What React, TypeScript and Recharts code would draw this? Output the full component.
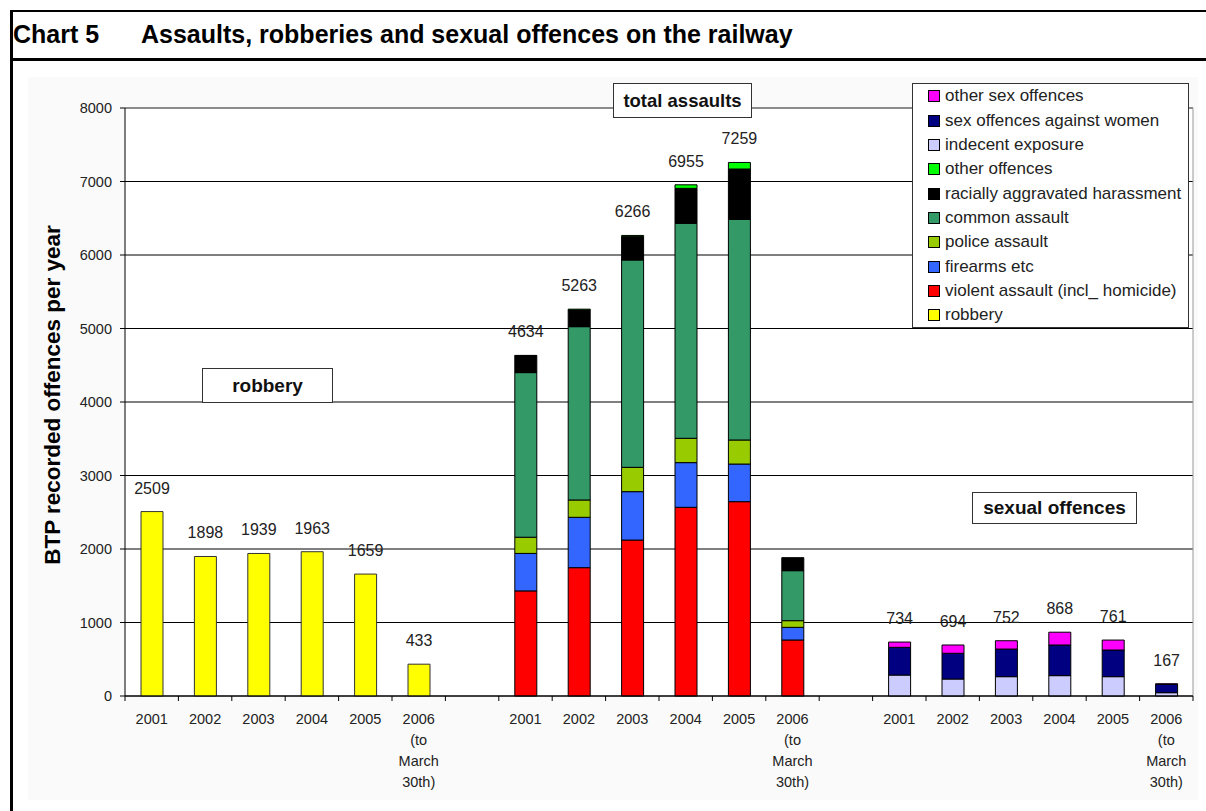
import React from "react";
import { Bar, BarChart, CartesianGrid, LabelList, ReferenceLine, XAxis, YAxis } from "recharts";

const FONT = '"Liberation Sans", Arial, Helvetica, sans-serif';

const years = ["2001", "2002", "2003", "2004", "2005", "2006 (to March 30th)"];

const robbery = [2509, 1898, 1939, 1963, 1659, 433];

const violentAssault = [1430, 1746, 2122, 2567, 2644, 762];
const firearms = [510, 685, 658, 608, 512, 172];
const policeAssault = [220, 236, 331, 331, 327, 91];
const commonAssault = [2240, 2358, 2821, 2925, 3002, 680];
const racialHarassment = [230, 227, 318, 476, 685, 177];
const otherOffences = [4, 11, 16, 48, 89, 0];
const assaultTotals = [4634, 5263, 6266, 6955, 7259, 1882];

const indecentExposure = [285, 231, 263, 277, 263, 45];
const sexOffencesWomen = [377, 350, 376, 417, 363, 112];
const otherSexOffences = [72, 113, 113, 174, 135, 10];
const sexualTotals = [734, 694, 752, 868, 761, 167];

const yTicks = [0, 1000, 2000, 3000, 4000, 5000, 6000, 7000, 8000];

// stack order, bottom to top
const series = [
  { key: "robbery", name: "robbery", color: "#FFFF00", edge: "#333" },
  { key: "violent", name: "violent assault (incl_ homicide)", color: "#FF0000", edge: "#000" },
  { key: "firearms", name: "firearms etc", color: "#3366FF", edge: "#000" },
  { key: "police", name: "police assault", color: "#99CC00", edge: "#000" },
  { key: "common", name: "common assault", color: "#339966", edge: "#000" },
  { key: "racial", name: "racially aggravated harassment", color: "#000000", edge: "#000" },
  { key: "otherOff", name: "other offences", color: "#00FF00", edge: "#000" },
  { key: "indecent", name: "indecent exposure", color: "#CCCCFF", edge: "#000" },
  { key: "women", name: "sex offences against women", color: "#000080", edge: "#000" },
  { key: "otherSex", name: "other sex offences", color: "#FF00FF", edge: "#000" },
];

type Row = Record<string, string | number | undefined>;

const rows: Row[] = [];
years.forEach((label, i) => rows.push({ label, robbery: robbery[i], robberyTotal: robbery[i] }));
rows.push({ label: "" });
years.forEach((label, i) =>
  rows.push({
    label,
    violent: violentAssault[i],
    firearms: firearms[i],
    police: policeAssault[i],
    common: commonAssault[i],
    racial: racialHarassment[i],
    otherOff: otherOffences[i],
    assaultTotal: assaultTotals[i],
  })
);
rows.push({ label: "" });
years.forEach((label, i) =>
  rows.push({
    label,
    indecent: indecentExposure[i],
    women: sexOffencesWomen[i],
    otherSex: otherSexOffences[i],
    sexualTotal: sexualTotals[i],
  })
);

const W = 1206;
const H = 811;
const PLOT_LEFT = 125;
const PLOT_RIGHT = 1193;
const PLOT_BOTTOM = 696;
const BAND = (PLOT_RIGHT - PLOT_LEFT) / rows.length;

const labelTops: Record<string, string> = {
  robbery: "robberyTotal",
  otherOff: "assaultTotal",
  otherSex: "sexualTotal",
};

function TotalLabel(props: any) {
  const vb = props.viewBox || props;
  const { x, y, width, height } = vb;
  if (props.value == null || x == null) return null;
  const top = Math.min(y, y + (height || 0));
  return (
    <text x={x + width / 2} y={top - 18} textAnchor="middle" fontSize={16} fill="#222" fontFamily={FONT}>
      {props.value}
    </text>
  );
}

function YearTick(props: any) {
  const { x, y, payload, index } = props;
  const lines = String(payload.value).split(" ").filter(Boolean);
  return (
    <g>
      <line x1={x - BAND / 2} x2={x - BAND / 2} y1={y} y2={y + 5} stroke="#000" />
      {index === rows.length - 1 && <line x1={x + BAND / 2} x2={x + BAND / 2} y1={y} y2={y + 5} stroke="#000" />}
      {lines.map((line, i) => (
        <text key={i} x={x} y={y + 28 + i * 21} textAnchor="middle" fontSize={14.5} fill="#222" fontFamily={FONT}>
          {line}
        </text>
      ))}
    </g>
  );
}

const boxStyle: React.CSSProperties = {
  position: "absolute",
  background: "#fff",
  border: "1px solid #333",
  boxSizing: "border-box",
  display: "flex",
  alignItems: "center",
  justifyContent: "center",
  fontWeight: "bold",
  color: "#111",
  whiteSpace: "nowrap",
};

export default function App() {
  return (
    <div style={{ position: "relative", width: W, height: H, background: "#fff", fontFamily: FONT, overflow: "hidden" }}>
      <style>{"body{margin:0}"}</style>
      <div style={{ position: "absolute", left: 10, top: 10, width: W - 10, height: H - 10, borderTop: "2px solid #000", borderLeft: "3px solid #000", boxSizing: "border-box" }} />
      <div style={{ position: "absolute", left: 10, top: 58, width: W - 10, height: 3, background: "#000" }} />
      <div style={{ position: "absolute", left: 13, top: 20, fontSize: 25, fontWeight: "bold", lineHeight: "29px", color: "#000" }}>Chart 5</div>
      <div style={{ position: "absolute", left: 141, top: 20, fontSize: 25, fontWeight: "bold", lineHeight: "29px", color: "#000" }}>
        Assaults, robberies and sexual offences on the railway
      </div>
      <div style={{ position: "absolute", left: 28, top: 77, width: 1170, height: 723, background: "#fafafa" }} />

      <div style={{ position: "absolute", left: 0, top: 0 }}>
        <BarChart width={W} height={H} data={rows} margin={{ top: 108, right: W - PLOT_RIGHT, bottom: 15, left: 65 }} barSize={22}>
          <CartesianGrid vertical={false} stroke="#000" fill="#fff" />
          <CartesianGrid horizontal={false} verticalPoints={[PLOT_RIGHT]} stroke="#999" />
          <ReferenceLine y={8000} stroke="#999" />
          <XAxis
            dataKey="label"
            interval={0}
            height={100}
            tickSize={0}
            tickMargin={0}
            tickLine={false}
            axisLine={{ stroke: "#000" }}
            tick={<YearTick />}
          />
          <YAxis
            width={60}
            domain={[0, 8000]}
            ticks={yTicks}
            interval={0}
            tickSize={5}
            tickMargin={8}
            axisLine={{ stroke: "#000" }}
            tickLine={{ stroke: "#000" }}
            tick={{ fontSize: 14.5, fill: "#222", fontFamily: FONT }}
          />
          {series.map((s) => (
            <Bar key={s.key} dataKey={s.key} name={s.name} stackId="all" fill={s.color} stroke={s.edge} strokeWidth={1} isAnimationActive={false}>
              {labelTops[s.key] && <LabelList dataKey={labelTops[s.key]} content={<TotalLabel />} />}
            </Bar>
          ))}
        </BarChart>
      </div>

      <div
        style={{
          position: "absolute",
          left: 53,
          top: 395,
          transform: "translate(-50%, -50%) rotate(-90deg)",
          fontSize: 22.5,
          fontWeight: "bold",
          whiteSpace: "nowrap",
          color: "#000",
        }}
      >
        BTP recorded offences per year
      </div>

      <div style={{ ...boxStyle, left: 613, top: 83, width: 139, height: 35, fontSize: 18.5 }}>total assaults</div>
      <div style={{ ...boxStyle, left: 202, top: 368, width: 131, height: 35, fontSize: 19 }}>robbery</div>
      <div style={{ ...boxStyle, left: 972, top: 492, width: 165, height: 32, fontSize: 19 }}>sexual offences</div>

      <div
        style={{
          position: "absolute",
          left: 912,
          top: 83,
          width: 277,
          height: 245,
          background: "#fff",
          border: "1px solid #333",
          boxSizing: "border-box",
        }}
      >
        {[...series].reverse().map((s) => (
          <div key={s.key} style={{ height: 24.35, display: "flex", alignItems: "center", paddingLeft: 15, whiteSpace: "nowrap" }}>
            <span style={{ width: 10, height: 10, background: s.color, border: "1px solid #000", marginRight: 5, flexShrink: 0 }} />
            <span style={{ fontSize: 17, color: "#222" }}>{s.name}</span>
          </div>
        ))}
      </div>
    </div>
  );
}
